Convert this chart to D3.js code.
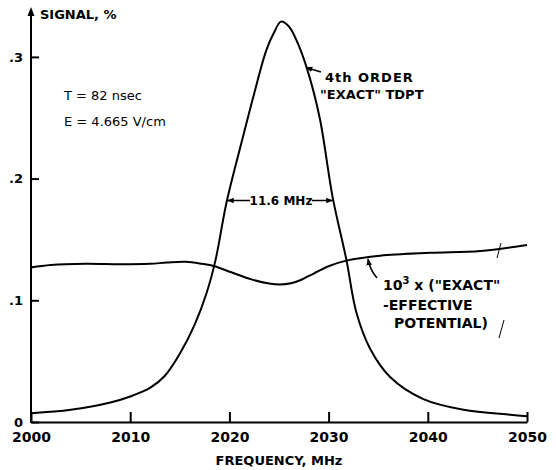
<!DOCTYPE html>
<html>
<head>
<meta charset="utf-8">
<script src="https://cdn.jsdelivr.net/npm/d3@7"></script>
<style>
  body { margin: 0; background: #fff; }
  svg { display: block; font-family: "DejaVu Sans", sans-serif; font-weight: bold; }
</style>
</head>
<body>
<svg id="chart" width="556" height="470"></svg>
<script>
// 4th order "exact" TDPT signal (%)
var peakFreq = [2000, 2004, 2008, 2010, 2012, 2013.5, 2015, 2016.5, 2017.7, 2018.6, 2019.7, 2021.2, 2022.5, 2023.7, 2024.5,
  2025.2, 2026, 2026.8, 2027.8, 2029.1, 2030.4, 2031.8, 2032.8, 2034.2, 2036.2, 2039.5, 2043.6, 2048.3, 2050];
var peakSignal = [0.0072, 0.010, 0.016, 0.021, 0.028, 0.038, 0.056, 0.080, 0.106, 0.133, 0.180, 0.229, 0.270, 0.305, 0.320,
  0.329, 0.325, 0.313, 0.291, 0.250, 0.185, 0.133, 0.090, 0.060, 0.037, 0.019, 0.010, 0.006, 0.0048];

// 10^3 x ("exact" - effective potential)
var diffFreq = [2000, 2002, 2005.5, 2009, 2012, 2013.7, 2015.6, 2017.2, 2018.5, 2020.2, 2022.3, 2024, 2025.1, 2026.2, 2027.2,
  2028.5, 2030, 2032, 2035.2, 2040.2, 2045.3, 2050];
var diffSignal = [0.127, 0.129, 0.130, 0.1296, 0.130, 0.131, 0.1316, 0.130, 0.128, 0.123, 0.117, 0.1138, 0.113, 0.114, 0.1167,
  0.122, 0.128, 0.133, 0.1367, 0.139, 0.1405, 0.1455];

var xTicks = [2000, 2010, 2020, 2030, 2040, 2050];
var yTicks = [0, 0.1, 0.2, 0.3];

(function (d) {
  var svg = d3.select("#chart");
  var x = d3.scaleLinear().domain([2000, 2050]).range([31, 527]);
  var y = d3.scaleLinear().domain([0, 0.3]).range([422, 56.9]);

  svg.append("defs").append("marker")
    .attr("id", "head")
    .attr("viewBox", "0 0 10 10")
    .attr("refX", 9).attr("refY", 5)
    .attr("markerWidth", 7).attr("markerHeight", 7)
    .attr("markerUnits", "userSpaceOnUse")
    .attr("orient", "auto")
    .append("path").attr("d", "M0,1L10,5L0,9Z").attr("fill", "#000");

  // x axis, ticks pointing up into the plot
  var gx = svg.append("g")
    .attr("transform", "translate(0,422)")
    .call(d3.axisBottom(x).tickValues(xTicks).tickFormat(d3.format("d")).tickSize(-10).tickSizeOuter(0).tickPadding(10));
  gx.select(".domain").attr("stroke-width", 2);
  gx.selectAll(".tick line").attr("stroke-width", 2);
  gx.selectAll(".tick text").attr("font-size", 14).attr("font-family", "DejaVu Sans").attr("font-weight", "bold");

  // y axis, ticks pointing right
  var gy = svg.append("g")
    .attr("transform", "translate(31,0)")
    .call(d3.axisLeft(y).tickValues(yTicks).tickFormat(v => v === 0 ? "0" : "." + Math.round(v * 10)).tickSize(-8).tickPadding(8));
  gy.select(".domain").remove();
  gy.selectAll(".tick line").attr("stroke-width", 2);
  gy.selectAll(".tick text").attr("font-size", 13).attr("font-family", "DejaVu Sans").attr("font-weight", "bold");

  svg.append("line").attr("x1", 31).attr("x2", 31).attr("y1", 423).attr("y2", 14)
    .attr("stroke", "#000").attr("stroke-width", 2);
  svg.append("path").attr("d", "M31,7L27.5,16L34.5,16Z").attr("fill", "#000");

  var line = d3.line()
    .x((v, i) => x(v[0]))
    .y(v => y(v[1]))
    .curve(d3.curveCatmullRom.alpha(0.5));

  svg.append("path")
    .attr("d", line(d3.zip(peakFreq, peakSignal)))
    .attr("fill", "none").attr("stroke", "#000").attr("stroke-width", 2);
  svg.append("path")
    .attr("d", line(d3.zip(diffFreq, diffSignal)))
    .attr("fill", "none").attr("stroke", "#000").attr("stroke-width", 2);

  // text labels
  function label(tx, ty, str, size) {
    return svg.append("text").attr("x", tx).attr("y", ty).attr("font-size", size || 13).text(str);
  }
  label(40, 19, "SIGNAL, %", 13);
  label(x(2025), 465, "FREQUENCY, MHz", 13).attr("text-anchor", "middle");
  label(64, 100, "T = 82 nsec", 13).attr("font-weight", "normal");
  label(64, 126, "E = 4.665 V/cm", 13).attr("font-weight", "normal");
  label(325, 82, "4th ORDER", 13).attr("letter-spacing", 1);
  label(320, 99, "\"EXACT\" TDPT", 13);
  label(281, 205, "11.6 MHz", 12).attr("text-anchor", "middle");

  var t = label(383, 290, "10", 14);
  t.append("tspan").attr("dy", -6).attr("font-size", 10).text("3");
  t.append("tspan").attr("dy", 6).text(" x (\"EXACT\"");
  label(383, 310, "-EFFECTIVE", 14);
  label(394, 328, "POTENTIAL)", 14);

  // pointers
  function arrow(path) {
    return svg.append("path").attr("d", path).attr("fill", "none")
      .attr("stroke", "#000").attr("stroke-width", 1.5).attr("marker-end", "url(#head)");
  }
  arrow("M321,72L306,67.5");
  arrow("M250," + y(0.182) + "L" + x(2019.8) + "," + y(0.182));
  arrow("M312," + y(0.182) + "L" + x(2030.4) + "," + y(0.182));
  arrow("M377,278Q370,270 368,259");

  // stray pen marks on the original
  svg.append("path").attr("d", "M497,258L501,243M499,338L504,320")
    .attr("stroke", "#000").attr("stroke-width", 1).attr("fill", "none");
}(document));
</script>
</body>
</html>
